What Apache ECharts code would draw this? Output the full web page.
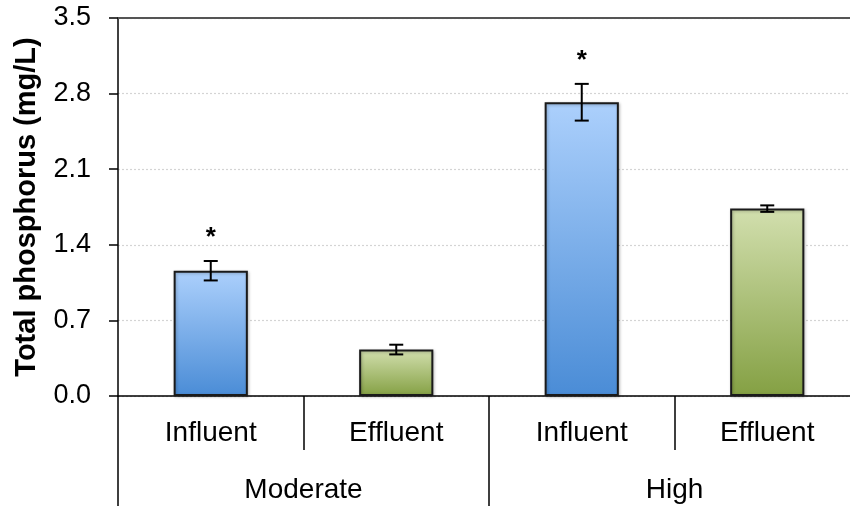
<!DOCTYPE html>
<html>
<head>
<meta charset="utf-8">
<script src="https://cdn.jsdelivr.net/npm/echarts@6/dist/echarts.min.js"></script>
<style>html,body{margin:0;padding:0;background:#fff;}#c{width:850px;height:506px;}</style>
</head>
<body>
<div id="c"></div>
<script>
var categories = ['Influent', 'Effluent', 'Influent', 'Effluent'];
var groups = ['Moderate', 'High'];
var values = [1.16, 0.43, 2.72, 1.735];
var errors = [0.09, 0.045, 0.17, 0.03];
var significance = ['*', '', '*', ''];
var yTicks = [0, 0.7, 1.4, 2.1, 2.8, 3.5];

var chart = echarts.init(document.getElementById('c'));
var FONT = '"Liberation Sans", Arial, sans-serif';

function grad(top, bottom) {
  return new echarts.graphic.LinearGradient(0, 0, 0, 1, [
    { offset: 0, color: top }, { offset: 1, color: bottom }
  ]);
}
var blue = grad('#acd0fc', '#4a8cd6');
var green = grad('#d2dfae', '#84a043');

var barData = values.map(function (v, i) {
  return { value: v, itemStyle: { color: i % 2 === 0 ? blue : green } };
});
var errData = values.map(function (v, i) { return [i, v - errors[i], v + errors[i], significance[i]]; });

chart.setOption({
  animation: false,
  backgroundColor: '#fff',
  grid: { left: 118, top: 18, width: 742, height: 378, containLabel: false, outerBoundsMode: 'none',
    show: false },
  xAxis: [{
    type: 'category',
    data: categories,
    axisLine: { lineStyle: { color: '#000', width: 1.5 } },
    axisTick: { show: true, interval: 0, length: 54, lineStyle: { color: '#000', width: 1.5 } },
    axisLabel: { interval: 0, color: '#000', fontSize: 28, fontFamily: FONT, margin: 23 }
  }, {
    type: 'category',
    data: groups,
    position: 'bottom',
    axisLine: { show: false },
    axisTick: { show: true, interval: 0, length: 112, lineStyle: { color: '#000', width: 1.5 } },
    axisLabel: { interval: 0, color: '#000', fontSize: 28, fontFamily: FONT, margin: 80 }
  }],
  yAxis: {
    type: 'value',
    min: 0, max: 3.5, interval: 0.7,
    axisLine: { show: true, lineStyle: { color: '#000', width: 1.5 } },
    axisTick: { show: true, inside: false, length: 9, lineStyle: { color: '#000', width: 1.5 } },
    axisLabel: { color: '#000', fontSize: 27, fontFamily: FONT, margin: 27,
      formatter: function (v) { return v.toFixed(1); } },
    splitLine: { show: true, lineStyle: { color: '#d4d4d4', type: [2, 2], width: 1.2 } },
    name: 'Total phosphorus (mg/L)',
    nameLocation: 'middle',
    nameGap: 77,
    nameTextStyle: { color: '#000', fontSize: 29, fontWeight: 'bold', fontFamily: FONT }
  },
  series: [{
    type: 'bar',
    xAxisIndex: 0,
    data: barData,
    barWidth: '40%',
    itemStyle: { borderColor: '#1a1a1a', borderWidth: 2,
      shadowColor: 'rgba(0,0,0,0.25)', shadowBlur: 3, shadowOffsetX: 1, shadowOffsetY: 1 },
    markLine: {
      silent: true, symbol: 'none', label: { show: false },
      lineStyle: { color: '#555', type: 'solid', width: 2 },
      data: [{ yAxis: yTicks[yTicks.length - 1] }]
    },
    z: 2
  }, {
    type: 'custom',
    xAxisIndex: 0,
    data: errData,
    z: 5,
    renderItem: function (params, api) {
      var x = api.value(0);
      var lo = api.coord([x, api.value(1)]);
      var hi = api.coord([x, api.value(2)]);
      var hw = 7;
      var st = { stroke: '#000', lineWidth: 2 };
      var children = [
        { type: 'line', shape: { x1: lo[0], y1: lo[1], x2: hi[0], y2: hi[1] }, style: st },
        { type: 'line', shape: { x1: lo[0] - hw, y1: lo[1], x2: lo[0] + hw, y2: lo[1] }, style: st },
        { type: 'line', shape: { x1: hi[0] - hw, y1: hi[1], x2: hi[0] + hw, y2: hi[1] }, style: st }
      ];
      var sig = api.value(3);
      if (sig) {
        children.push({ type: 'text', style: { text: sig, x: hi[0], y: hi[1] - 10, textAlign: 'center', textVerticalAlign: 'bottom',
          fill: '#000', font: 'bold 26px ' + FONT } });
      }
      return { type: 'group', children: children };
    }
  }]
});
</script>
</body>
</html>
